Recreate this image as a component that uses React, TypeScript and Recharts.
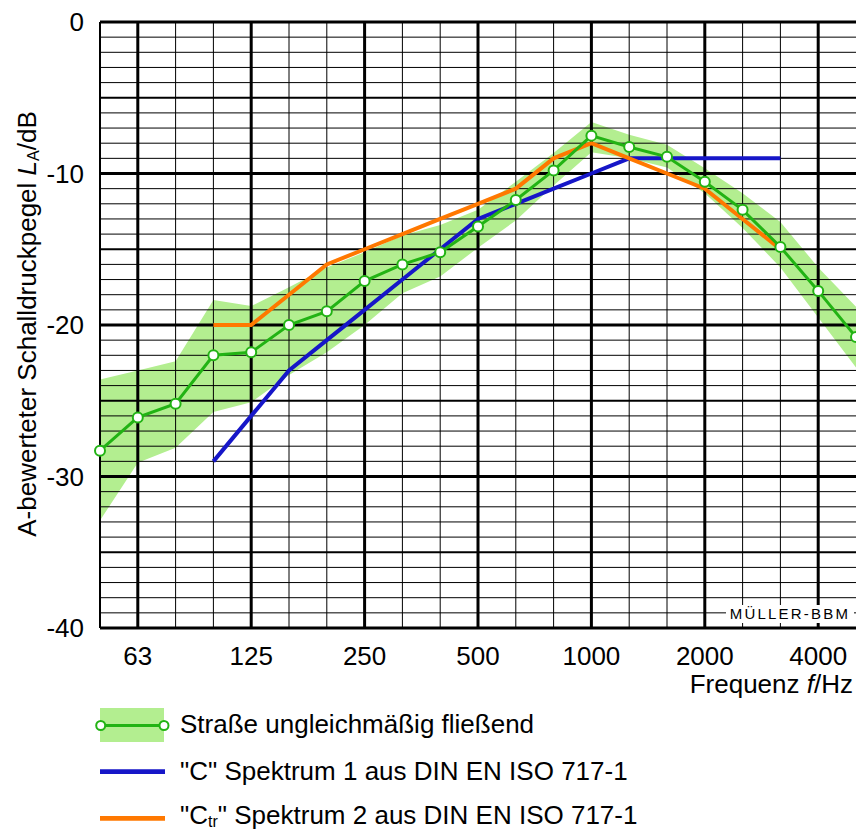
import React from "react";
import { ComposedChart, Area, Line, XAxis, YAxis, ReferenceLine } from "recharts";

// third-octave band centre frequencies, index 0..20
const BANDS = [
  "50", "63", "80", "100", "125", "160", "200", "250", "315", "400",
  "500", "630", "800", "1000", "1250", "1600", "2000", "2500", "3150", "4000", "5000",
];
const OCTAVE_TICKS = [1, 4, 7, 10, 13, 16, 19];
const Y_TICKS = [0, -10, -20, -30, -40];

// Straße ungleichmäßig fließend (mean + spread)
const ROAD = [
  -28.3, -26.1, -25.2, -22.0, -21.8, -20.0, -19.1, -17.1, -16.0, -15.2,
  -13.5, -11.75, -9.8, -7.5, -8.25, -8.9, -10.55, -12.4, -14.85, -17.75, -20.8,
];
const ROAD_LOW = [
  -32.9, -29.1, -28.1, -25.75, -25.1, -23.3, -21.8, -20.0, -17.9, -16.8,
  -14.9, -13.1, -10.8, -8.6, -9.0, -9.6, -11.3, -13.6, -16.2, -19.5, -22.8,
];
const ROAD_HIGH = [
  -23.6, -23.0, -22.4, -18.35, -18.75, -17.5, -16.2, -15.2, -14.1, -13.4,
  -12.4, -10.55, -8.65, -6.6, -7.45, -8.1, -9.65, -11.3, -13.2, -16.2, -18.8,
];

// DIN EN ISO 717-1 spectra, 100..3150 Hz
const SPECTRUM_C = [
  null, null, null, -29, -26, -23, -21, -19, -17, -15,
  -13, -12, -11, -10, -9, -9, -9, -9, -9, null, null,
];
const SPECTRUM_CTR = [
  null, null, null, -20, -20, -18, -16, -15, -14, -13,
  -12, -11, -9, -8, -9, -10, -11, -13, -15, null, null,
];

const GREEN = "#22b314";
const GREEN_SOFT = "#b3ee90";
const BLUE = "#1616c8";
const ORANGE = "#ff7800";
const FONT = "'Liberation Sans', Arial, sans-serif";
const FS = 26;

const data = BANDS.map((b, i) => ({
  i,
  band: b,
  road: ROAD[i],
  spread: [ROAD_LOW[i], ROAD_HIGH[i]],
  c: SPECTRUM_C[i],
  ctr: SPECTRUM_CTR[i],
}));

const hLines = Array.from({ length: 39 }, (_, k) => -(k + 1));
const vLines = Array.from({ length: 19 }, (_, k) => k + 1);

function hWidth(v: number) {
  if (v % 10 === 0) return 3;
  if (v % 5 === 0) return 2;
  return 1;
}

const textRow = (top: number): React.CSSProperties => ({
  position: "absolute",
  left: 180,
  top,
  fontSize: FS,
  lineHeight: "28px",
  whiteSpace: "nowrap",
});

const subStyle: React.CSSProperties = { fontSize: 16, lineHeight: 0, verticalAlign: "-3px" };

export default function App() {
  return (
    <div style={{ position: "absolute", left: 0, top: 0, width: 856, height: 831, fontFamily: FONT, background: "#fff", overflow: "hidden" }}>
      <ComposedChart
        width={856}
        height={690}
        data={data}
        margin={{ top: 22, right: 0, left: 0, bottom: 0 }}
      >
        <XAxis
          type="number"
          dataKey="i"
          domain={[0, 20]}
          ticks={OCTAVE_TICKS}
          tickFormatter={(v) => BANDS[v]}
          axisLine={false}
          tickLine={false}
          height={62}
          tickMargin={13}
          tick={{ fontSize: FS, fill: "#000", fontFamily: FONT }}
        />
        <YAxis
          type="number"
          domain={[-40, 0]}
          ticks={Y_TICKS}
          width={100}
          axisLine={false}
          tickLine={false}
          tickMargin={10}
          tick={{ fontSize: FS, fill: "#000", fontFamily: FONT }}
        />
        <Area
          dataKey="spread"
          stroke="none"
          fill={GREEN_SOFT}
          fillOpacity={1}
          isAnimationActive={false}
        />
        {vLines.map((v) => (
          <ReferenceLine
            key={"v" + v}
            x={v}
            stroke="#000"
            strokeWidth={OCTAVE_TICKS.includes(v) ? 3 : 1}
          />
        ))}
        {hLines.map((v) => (
          <ReferenceLine key={"h" + v} y={v} stroke="#000" strokeWidth={hWidth(v)} />
        ))}
        <ReferenceLine y={0} stroke="#000" strokeWidth={3} />
        <ReferenceLine y={-40} stroke="#000" strokeWidth={3} />
        <ReferenceLine x={0} stroke="#000" strokeWidth={2} />
        <Line
          dataKey="c"
          stroke={BLUE}
          strokeWidth={4}
          dot={false}
          isAnimationActive={false}
        />
        <Line
          dataKey="ctr"
          stroke={ORANGE}
          strokeWidth={4}
          dot={false}
          isAnimationActive={false}
        />
        <Line
          dataKey="road"
          stroke={GREEN}
          strokeWidth={3}
          dot={{ r: 5, fill: "#fff", stroke: GREEN, strokeWidth: 2 }}
          isAnimationActive={false}
        />
      </ComposedChart>

      {/* watermark */}
      <div
        style={{
          position: "absolute", left: 726, top: 605, width: 128, height: 18,
          background: "#fff", fontSize: 15, letterSpacing: 2.2, lineHeight: "18px",
          textAlign: "center",
        }}
      >
        MÜLLER-BBM
      </div>

      {/* y label */}
      <div
        style={{
          position: "absolute", left: 27, top: 324, width: 480, fontSize: FS,
          transform: "translate(-50%, -50%) rotate(-90deg)", textAlign: "center",
          whiteSpace: "nowrap", lineHeight: "30px",
        }}
      >
        A-bewerteter Schalldruckpegel <i>L</i>
        <sub style={subStyle}>A</sub>/dB
      </div>

      {/* x label */}
      <div style={{ position: "absolute", right: 3, top: 671, fontSize: FS, lineHeight: "26px", whiteSpace: "nowrap" }}>
        Frequenz <i>f</i>/Hz
      </div>

      {/* legend */}
      <svg style={{ position: "absolute", left: 90, top: 700 }} width={85} height={128}>
        <rect x={10} y={8} width={64} height={34} fill={GREEN_SOFT} />
        <line x1={10.7} y1={25.5} x2={74} y2={25.5} stroke={GREEN} strokeWidth={3} />
        <circle cx={10.7} cy={25.5} r={4.5} fill="#fff" stroke={GREEN} strokeWidth={2} />
        <circle cx={74} cy={25.5} r={4.5} fill="#fff" stroke={GREEN} strokeWidth={2} />
        <line x1={10} y1={71.7} x2={75} y2={71.7} stroke={BLUE} strokeWidth={4.7} />
        <line x1={10} y1={118.3} x2={75} y2={118.3} stroke={ORANGE} strokeWidth={4.7} />
      </svg>
      <div style={textRow(710)}>Straße ungleichmäßig fließend</div>
      <div style={textRow(757)}>"C" Spektrum 1 aus DIN EN ISO 717-1</div>
      <div style={textRow(801)}>
        "C<sub style={subStyle}>tr</sub>" Spektrum 2 aus DIN EN ISO 717-1
      </div>
    </div>
  );
}
